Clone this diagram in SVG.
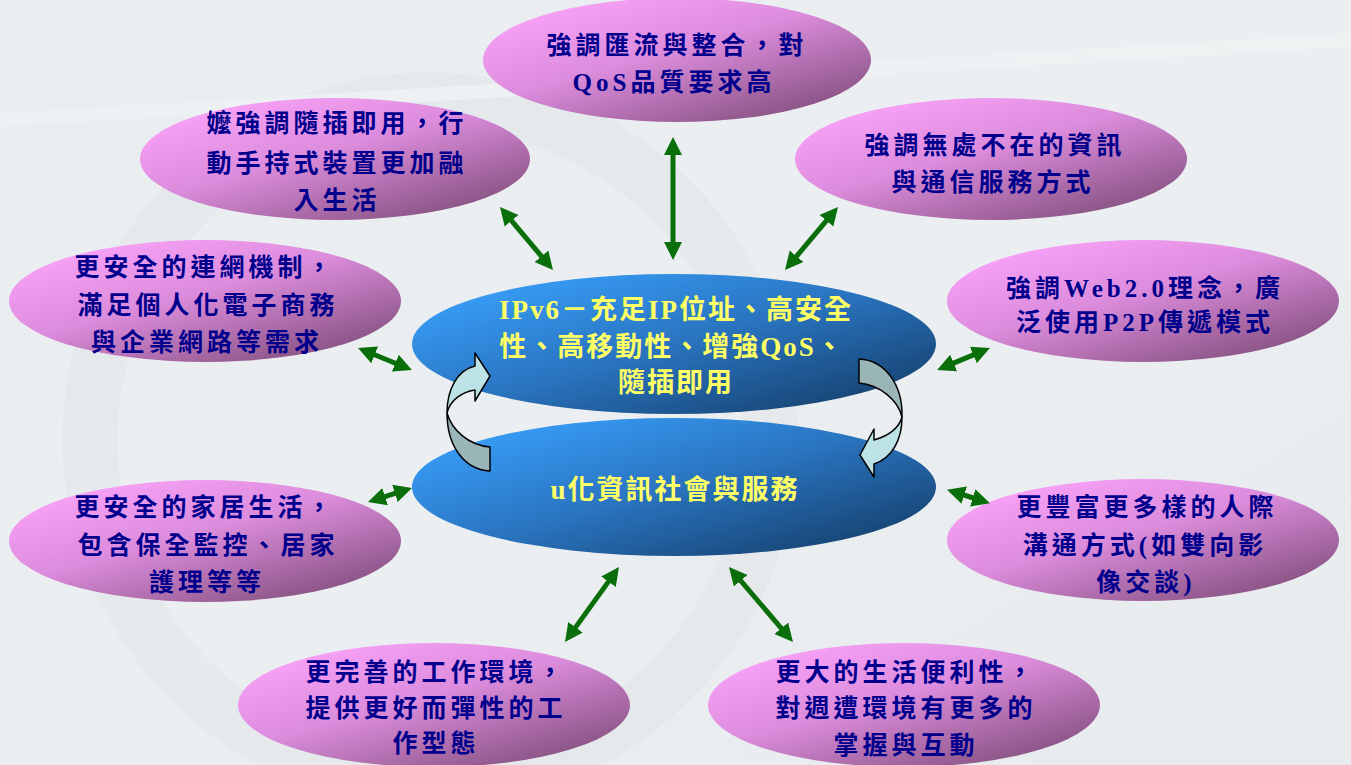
<svg xmlns="http://www.w3.org/2000/svg" width="1351" height="765" viewBox="0 0 1351 765">
<defs>
<linearGradient id="bg" x1="0" y1="0" x2="1" y2="1">
<stop offset="0" stop-color="#e9edf0"/>
<stop offset="0.5" stop-color="#eceff1"/>
<stop offset="1" stop-color="#e7ebee"/>
</linearGradient>
<linearGradient id="pink" x1="0.15" y1="0.15" x2="0.85" y2="0.95">
<stop offset="0" stop-color="#f59ff5"/>
<stop offset="0.4" stop-color="#dc8cdc"/>
<stop offset="1" stop-color="#84507f"/>
</linearGradient>
<linearGradient id="blue" x1="0.1" y1="0.2" x2="0.9" y2="0.95">
<stop offset="0" stop-color="#3699f2"/>
<stop offset="0.45" stop-color="#2a74c0"/>
<stop offset="1" stop-color="#15406c"/>
</linearGradient>
<marker id="ah" markerUnits="userSpaceOnUse" viewBox="0 0 18 20" markerWidth="18" markerHeight="20" refX="4" refY="10" orient="auto-start-reverse">
<path d="M0,1 L18,10 L0,19 Z" fill="#0a6e0a"/>
</marker>
<style>
.pk{fill:url(#pink)}
.bl{fill:url(#blue)}
.t{font-family:"Liberation Serif","Noto Sans CJK TC",serif;font-weight:bold;font-size:25px;fill:#00008c;text-anchor:middle;dominant-baseline:central;letter-spacing:4px}
.y{font-family:"Liberation Serif","Noto Sans CJK TC",serif;font-weight:bold;font-size:27px;fill:#ffff66;text-anchor:middle;dominant-baseline:central;letter-spacing:2px}
.ln{stroke:#0a6e0a;stroke-width:5;fill:none;marker-start:url(#ah);marker-end:url(#ah)}
.back{fill:#9ab5b8;stroke:#000;stroke-width:1.5;stroke-linejoin:round}
.front{fill:#bde3e6;stroke:#000;stroke-width:1.5;stroke-linejoin:round}
</style>
</defs>
<rect x="0" y="0" width="1351" height="765" fill="url(#bg)"/>
<g id="watermark" opacity="0.3">
<circle cx="430" cy="440" r="340" fill="none" stroke="#d9dee2" stroke-width="55"/>
<path d="M 0 120 L 1351 40" stroke="#f6f8f9" stroke-width="14" fill="none"/>
</g>

<g id="n-top"><ellipse class="pk" cx="677" cy="60" rx="194" ry="62"/>
<text class="t" x="677" y="45">強調匯流與整合，對</text>
<text class="t" x="674" y="82">QoS品質要求高</text></g>

<g id="n-topleft"><ellipse class="pk" cx="335" cy="159" rx="195" ry="61"/>
<text class="t" x="337" y="123">嬤強調隨插即用，行</text>
<text class="t" x="337" y="163">動手持式裝置更加融</text>
<text class="t" x="337" y="200">入生活</text></g>

<g id="n-topright"><ellipse class="pk" cx="991" cy="159" rx="196" ry="61"/>
<text class="t" x="995" y="145">強調無處不在的資訊</text>
<text class="t" x="993" y="182">與通信服務方式</text></g>

<g id="n-leftmid"><ellipse class="pk" cx="205" cy="301" rx="196" ry="61"/>
<text class="t" x="205" y="267">更安全的連網機制，</text>
<text class="t" x="208" y="305">滿足個人化電子商務</text>
<text class="t" x="207" y="342">與企業網路等需求</text></g>

<g id="n-rightmid"><ellipse class="pk" cx="1143" cy="301" rx="196" ry="61"/>
<text class="t" x="1145" y="288">強調Web2.0理念，廣</text>
<text class="t" x="1145" y="322">泛使用P2P傳遞模式</text></g>

<g id="n-leftlow"><ellipse class="pk" cx="205" cy="541" rx="196" ry="61"/>
<text class="t" x="205" y="507">更安全的家居生活，</text>
<text class="t" x="208" y="545">包含保全監控、居家</text>
<text class="t" x="207" y="582">護理等等</text></g>

<g id="n-rightlow"><ellipse class="pk" cx="1143" cy="540" rx="196" ry="61"/>
<text class="t" x="1147" y="507">更豐富更多樣的人際</text>
<text class="t" x="1145" y="545">溝通方式(如雙向影</text>
<text class="t" x="1146" y="582">像交談)</text></g>

<g id="n-botleft"><ellipse class="pk" cx="434" cy="705" rx="196" ry="62"/>
<text class="t" x="436" y="672">更完善的工作環境，</text>
<text class="t" x="436" y="708">提供更好而彈性的工</text>
<text class="t" x="436" y="743">作型態</text></g>

<g id="n-botright"><ellipse class="pk" cx="904" cy="705" rx="196" ry="62"/>
<text class="t" x="906" y="672">更大的生活便利性，</text>
<text class="t" x="906" y="708">對週遭環境有更多的</text>
<text class="t" x="906" y="745">掌握與互動</text></g>

<g id="connectors">
<line class="ln" x1="673" y1="151" x2="673" y2="246"/>
<line class="ln" x1="509" y1="217.7" x2="544" y2="259.3"/>
<line class="ln" x1="829" y1="217.7" x2="794" y2="259.3"/>
<line class="ln" x1="371" y1="353.3" x2="399" y2="364.7"/>
<line class="ln" x1="950" y1="364.6" x2="977" y2="353.4"/>
<line class="ln" x1="381.3" y1="497.8" x2="398.7" y2="492.2"/>
<line class="ln" x1="960.4" y1="494" x2="976.6" y2="499"/>
<line class="ln" x1="573.2" y1="630.6" x2="610.8" y2="578.4"/>
<line class="ln" x1="738.1" y1="577.7" x2="783.9" y2="631.3"/>
</g>

<g id="n-usociety"><ellipse class="bl" cx="674" cy="487" rx="262" ry="69"/>
<text class="y" x="675" y="490">u化資訊社會與服務</text></g>

<g id="n-ipv6"><ellipse class="bl" cx="674" cy="344" rx="262" ry="70"/>
<text class="y" x="676" y="310">IPv6－充足IP位址、高安全</text>
<text class="y" x="672" y="347">性、高移動性、增強QoS、</text>
<text class="y" x="676" y="383">隨插即用</text></g>

<g id="cycle-left">
<path class="back" d="M490,447 L490,471 C466,470 447,448 447,413 C452,430 468,445 490,447 Z"/>
<path class="front" d="M447,413 C447,390 457,370 475,366 L475,353 L490,376 L475,401 L475,390 C462,392 450,400 447,413 Z"/>
</g>
<g id="cycle-right">
<path class="back" d="M859,359 L859,383 C880,385 898,400 902,417 C903,385 885,360 859,359 Z"/>
<path class="front" d="M902,417 C902,440 892,458 874,464 L874,477 L860,455 L874,429 L874,440 C888,436 899,428 902,417 Z"/>
</g>
</svg>
